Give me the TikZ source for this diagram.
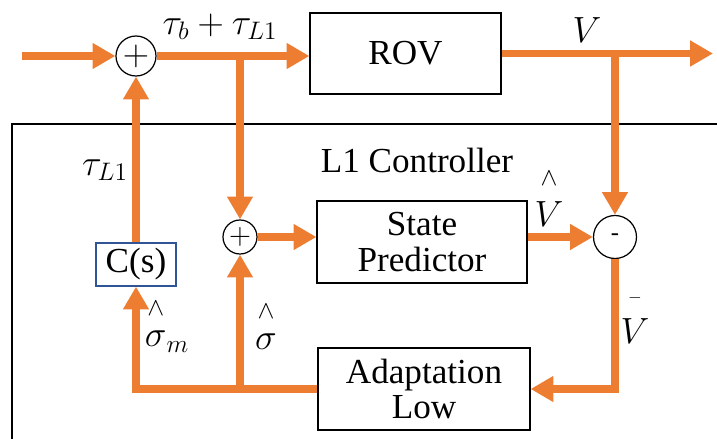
\documentclass[tikz,border=0pt]{standalone}
\usepackage{fontspec}
\usepackage{amsmath}
\setmainfont{Liberation Serif}
\usetikzlibrary{arrows.meta}

\definecolor{flow}{HTML}{ED7D31}
\definecolor{cboxblue}{HTML}{2F5597}

\tikzset{
  block/.style={draw, line width=0.7pt, inner sep=0pt, align=center},
  sumnode/.style={draw, circle, line width=0.7pt, inner sep=0pt},
  flowline/.style={draw=flow, line width=4pt},
  flowarrow/.style={flowline, -{Triangle[length=13pt,width=14pt]}}
}
\newcommand{\hatlab}[2][2.1ex]{\overset{\scriptstyle\wedge}{#2\rule{0pt}{#1}}}
\newcommand{\barlab}[1]{\overset{\scriptscriptstyle -}{#1\rule{0pt}{2.1ex}}}

\begin{document}
\begin{tikzpicture}[x=0.02cm, y=-0.02cm, every node/.style={font=\fontsize{20}{22}\selectfont}]
  \useasboundingbox (0,0) rectangle (717,439);

  % frame of the controller
  \draw[line width=0.7pt] (12,470) -- (12,124) -- (740,124);
  \node (ctl) at (417,160) {L1 Controller};

  % blocks
  \node[block, minimum width=3.82cm, minimum height=1.62cm] (rov) at (405.5,53.5) {ROV};
  \node[block, minimum width=4.2cm, minimum height=1.64cm] (sp) at (422,242) {State\\[-2pt]Predictor};
  \node[block, minimum width=4.24cm, minimum height=1.64cm] (ad) at (424,389) {Adaptation\\[-2pt]Low};
  \node[block, draw=cboxblue, minimum width=1.6cm, minimum height=0.86cm] (cs) at (136,264.5) {C(s)};

  \node[sumnode, minimum size=0.8cm] (s1) at (136,56) {$+$};
  \node[sumnode, minimum size=0.68cm, font=\fontsize{16}{18}\selectfont] (s2) at (240,237) {$+$};
  \node[sumnode, minimum size=0.86cm, font=\fontsize{14}{16}\selectfont] (mn) at (615,237) {-};

  \coordinate (in) at (22,56);
  \coordinate (out) at (713,53.5);
  \coordinate (b1) at (240,56);
  \coordinate (b2) at (615,53.5);
  \coordinate (b3) at (240,389);

  % signal flow
  \draw[flowarrow] (in) -- (s1);
  \draw[flowarrow] (s1) -- (s1 -| rov.west);
  \draw[flowarrow] (rov) -- (out);
  \draw[flowarrow] (b1) -- (s2);
  \draw[flowarrow] (b2) -- (mn);
  \draw[flowarrow] (s2) -- (s2 -| sp.west);
  \draw[flowarrow] (sp.east |- mn) -- (mn);
  \draw[flowarrow] (mn) |- (ad);
  \draw[flowarrow] (ad) -| (cs);
  \draw[flowarrow] (b3) -- (s2);
  \draw[flowarrow] (cs) -- (s1);

  % labels
  \node (vout) at (587,30) {$V$};
  \node (tsum) at (220,27) {$\tau_b+\tau_{L1}$};
  \node (vhat) at (549,197) {$\hatlab{V}$};
  \node (vbar) at (635,316) {$\barlab{V}$};
  \node (tl1) at (105,170) {$\tau_{L1}$};
  \node (sgm) at (167,325) {$\hatlab[1.5ex]{\sigma}_m$};
  \node (sg) at (266,325) {$\hatlab[1.5ex]{\sigma}$};
\end{tikzpicture}
\end{document}
